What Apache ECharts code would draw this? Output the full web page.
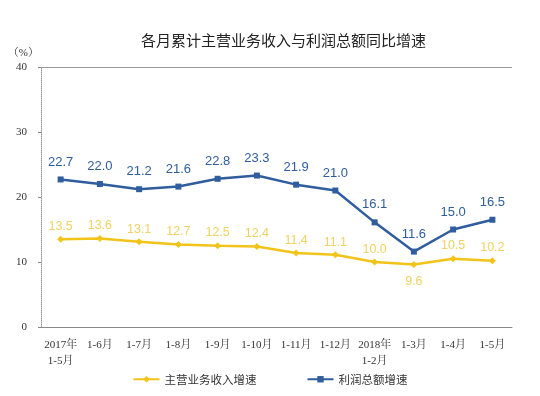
<!DOCTYPE html>
<html><head><meta charset="utf-8">
<script src="https://cdn.jsdelivr.net/npm/echarts@6/dist/echarts.min.js"></script>
<style>html,body{margin:0;padding:0;background:#fff}#c{width:540px;height:396px}</style>
</head><body><div id="c"></div>
<script>
var categories = ['2017年\n1-5月','1-6月','1-7月','1-8月','1-9月','1-10月','1-11月','1-12月','2018年\n1-2月','1-3月','1-4月','1-5月'];
var revenueGrowth = [13.5,13.6,13.1,12.7,12.5,12.4,11.4,11.1,10.0,9.6,10.5,10.2];
var profitGrowth = [22.7,22.0,21.2,21.6,22.8,23.3,21.9,21.0,16.1,11.6,15.0,16.5];
var yTicks = [0,10,20,30,40];
var seriesNames = ['主营业务收入增速','利润总额增速'];
var titleText = '各月累计主营业务收入与利润总额同比增速';

var chart = echarts.init(document.getElementById('c'));
var serif = "'Liberation Serif','Noto Serif CJK SC','Noto Sans CJK SC',serif";
var sans = "'Liberation Sans','Noto Sans CJK SC',sans-serif";
chart.setOption({
  backgroundColor:'#fff',
  animation:false,
  title:{text:titleText,left:136,top:28,textStyle:{fontSize:15,fontWeight:'normal',color:'#222',fontFamily:"'Noto Sans CJK SC',sans-serif"}},
  legend:{bottom:6,left:'center',itemGap:50,itemWidth:26,itemHeight:8,
    textStyle:{fontSize:11.5,color:'#333',fontFamily:"'Noto Sans CJK SC',sans-serif"},
    data:seriesNames},
  grid:{left:41,right:28,top:67,bottom:69},
  xAxis:{type:'category',data:categories,boundaryGap:true,
    axisLine:{lineStyle:{color:'#888',width:1}},
    axisTick:{inside:true,length:3,lineStyle:{color:'#888'}},
    axisLabel:{interval:0,fontSize:11,color:'#333',fontFamily:serif,lineHeight:16,margin:10}},
  yAxis:{type:'value',min:yTicks[0],max:yTicks[yTicks.length-1],interval:10,
    name:'（%）',nameLocation:'end',nameGap:8,nameTextStyle:{fontSize:11,color:'#333',fontFamily:serif,align:'right',padding:[0,2,0,0]},
    axisLine:{show:true,lineStyle:{color:'#999',width:1,type:'dotted'}},
    axisTick:{show:true,length:3,lineStyle:{color:'#888'}},
    splitLine:{show:true,lineStyle:{color:['transparent','transparent','transparent','transparent','#999'],width:1}},
    axisLabel:{fontSize:11,color:'#333',fontFamily:serif,margin:14}},
  series:[
    {name:seriesNames[0],type:'line',data:revenueGrowth,symbol:'diamond',symbolSize:7,
      itemStyle:{color:'#f2c318'},lineStyle:{color:'#f2c318',width:2.5},
      label:{show:true,position:'top',distance:3,fontSize:12.5,color:'#f0d262',fontFamily:sans,
        formatter:function(p){return p.value.toFixed(1);}},
      labelLayout:function(p){ if(p.dataIndex===9){return {dy:30};} return {}; }},
    {name:seriesNames[1],type:'line',data:profitGrowth,symbol:'rect',symbolSize:6,
      itemStyle:{color:'#2f5d9e'},lineStyle:{color:'#2f5d9e',width:2.5},
      label:{show:true,position:'top',distance:8,fontSize:13,color:'#2f5d9e',fontFamily:sans,
        formatter:function(p){return p.value.toFixed(1);}}}
  ]
});
</script></body></html>
